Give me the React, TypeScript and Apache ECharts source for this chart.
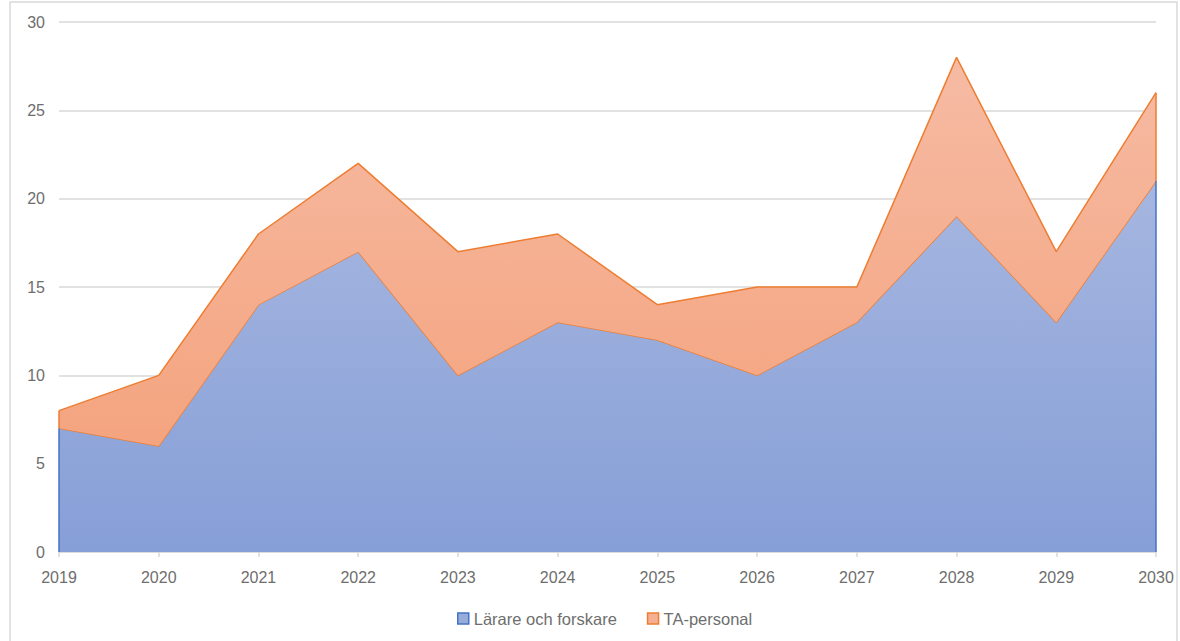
import React, { useEffect, useRef } from "react";
import * as echarts from "echarts";

const years = ["2019", "2020", "2021", "2022", "2023", "2024", "2025", "2026", "2027", "2028", "2029", "2030"];
const lararForskare = [7, 6, 14, 17, 10, 13, 12, 10, 13, 19, 13, 21];
const taPersonal = [1, 4, 4, 5, 7, 5, 2, 5, 2, 9, 4, 5];
const seriesNames = ["Lärare och forskare", "TA-personal"];

const BLUE = "#4472C4";
const ORANGE = "#ED7D31";
const FONT = "Liberation Sans, Arial, sans-serif";
const TEXT = "#6E6E6E";

export default function App() {
  const ref = useRef<HTMLDivElement>(null);
  useEffect(() => {
    if (!ref.current) return;
    const chart = echarts.init(ref.current, null, { renderer: "svg" });
    const first = years[0];
    const last = years[years.length - 1];
    const lastTotal = lararForskare[lararForskare.length - 1] + taPersonal[taPersonal.length - 1];
    chart.setOption({
      animation: false,
      backgroundColor: "#ffffff",
      graphic: [
        {
          type: "rect",
          shape: { x: 10, y: 2, width: 1167, height: 660 },
          style: { fill: "none", stroke: "#D9D9D9", lineWidth: 1.5 },
          silent: true,
          z: -1,
        },
      ],
      grid: { left: 59, right: 24, top: 22, bottom: 89, containLabel: false },
      legend: {
        left: 452,
        top: 605,
        itemWidth: 11,
        itemHeight: 11,
        itemGap: 30,
        icon: "rect",
        textStyle: { color: TEXT, fontSize: 16.5, fontFamily: FONT },
        data: [
          { name: seriesNames[0], itemStyle: { color: "#98ACDC", borderColor: BLUE, borderWidth: 1.5 } },
          { name: seriesNames[1], itemStyle: { color: "#F5AF93", borderColor: ORANGE, borderWidth: 1.5 } },
        ],
      },
      xAxis: {
        type: "category",
        data: years,
        boundaryGap: false,
        axisLine: { lineStyle: { color: "#D9D9D9", width: 1.5 } },
        axisTick: { show: true, length: 5, lineStyle: { color: "#D9D9D9", width: 1.5 } },
        axisLabel: { color: TEXT, fontSize: 16, fontFamily: FONT, margin: 17 },
        splitLine: { show: false },
      },
      yAxis: {
        type: "value",
        min: 0,
        max: 30,
        interval: 5,
        axisLine: { show: false },
        axisTick: { show: false },
        axisLabel: { color: TEXT, fontSize: 16, fontFamily: FONT, margin: 14 },
        splitLine: { lineStyle: { color: "#D9D9D9", width: 1.5 } },
      },
      series: [
        {
          name: seriesNames[0],
          type: "line",
          stack: "total",
          data: lararForskare,
          symbol: "none",
          lineStyle: { color: ORANGE, width: 1.5 },
          itemStyle: { color: BLUE },
          areaStyle: {
            opacity: 1,
            color: new echarts.graphic.LinearGradient(0, 0, 0, 1, [
              { offset: 0, color: "#A6B6E0" },
              { offset: 1, color: "#869FD7" },
            ]),
          },
          markLine: {
            silent: true,
            symbol: "none",
            label: { show: false },
            lineStyle: { color: BLUE, width: 1.5, type: "solid" },
            data: [
              [{ coord: [first, 0] }, { coord: [first, lararForskare[0]] }],
              [{ coord: [last, 0] }, { coord: [last, lararForskare[lararForskare.length - 1]] }],
            ],
          },
          z: 2,
        },
        {
          name: seriesNames[1],
          type: "line",
          stack: "total",
          data: taPersonal,
          symbol: "none",
          lineStyle: { color: ORANGE, width: 1.5 },
          itemStyle: { color: ORANGE },
          areaStyle: {
            opacity: 1,
            color: new echarts.graphic.LinearGradient(0, 0, 0, 1, [
              { offset: 0, color: "#F6BBA4" },
              { offset: 1, color: "#F4A47F" },
            ]),
          },
          markLine: {
            silent: true,
            symbol: "none",
            label: { show: false },
            lineStyle: { color: ORANGE, width: 1.5, type: "solid" },
            data: [
              [{ coord: [first, lararForskare[0]] }, { coord: [first, lararForskare[0] + taPersonal[0]] }],
              [{ coord: [last, lararForskare[lararForskare.length - 1]] }, { coord: [last, lastTotal] }],
            ],
          },
          z: 3,
        },
      ],
    });
    return () => chart.dispose();
  }, []);
  return <div ref={ref} style={{ position: "fixed", left: 0, top: 0, width: 1180, height: 641 }} />;
}
